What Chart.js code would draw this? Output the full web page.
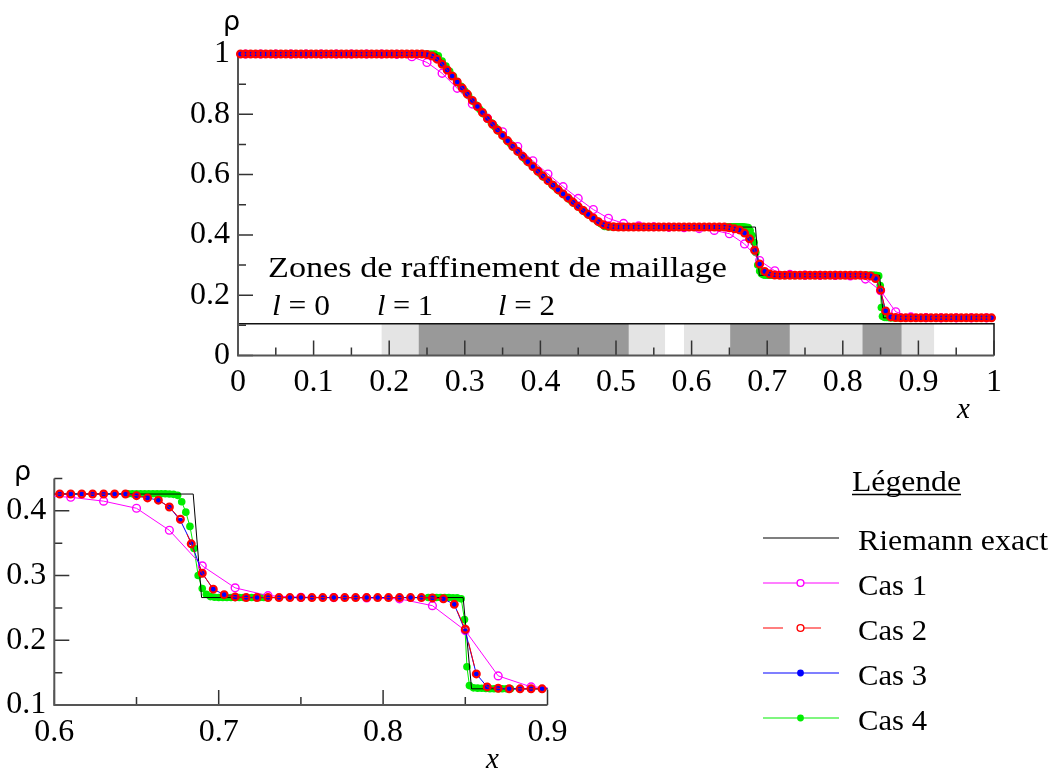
<!DOCTYPE html>
<html>
<head>
<meta charset="utf-8">
<script src="https://cdn.jsdelivr.net/npm/chart.js@4.4.0/dist/chart.umd.min.js"></script>
<style>
  body { margin: 0; background: #fff; }
  #page { position: relative; width: 1052px; height: 774px; overflow: hidden; background: #fff; }
  canvas { position: absolute; }
  #top { left: 0; top: 0; }
  #zoom { left: 0; top: 440px; }
  svg { position: absolute; left: 0; top: 0; }
  svg text { font-family: 'Liberation Serif', 'Times New Roman', serif; font-size: 29px; fill: #000; }
  svg text.rho { font-family: 'DejaVu Sans', sans-serif; font-size: 27px; }
</style>
</head>
<body>
<div id="page">
  <canvas id="top" width="1052" height="440"></canvas>
  <canvas id="zoom" width="740" height="334"></canvas>
  <svg id="labels" width="1052" height="774">
    <text class="rho" x="223" y="30">ρ</text>
    <text class="rho" x="14" y="480">ρ</text>
    <text x="268" y="277" textLength="459" lengthAdjust="spacingAndGlyphs">Zones de raffinement de maillage</text>
    <text x="272" y="315" textLength="58" lengthAdjust="spacingAndGlyphs"><tspan font-style="italic">l</tspan> = 0</text>
    <text x="377" y="315" textLength="56" lengthAdjust="spacingAndGlyphs"><tspan font-style="italic">l</tspan> = 1</text>
    <text x="498" y="315" textLength="57" lengthAdjust="spacingAndGlyphs"><tspan font-style="italic">l</tspan> = 2</text>
    <text x="957" y="418" font-style="italic">x</text>
    <text x="486" y="768" font-style="italic">x</text>
    <text x="852" y="491" textLength="109" lengthAdjust="spacingAndGlyphs">Légende</text>
    <line x1="852" y1="494.5" x2="961" y2="494.5" stroke="#000" stroke-width="1.5"/>
  </svg>
</div>
<script>
// ---- données ----

// solution exacte du problème de Riemann
const riemannX = [0, 0.263, 0.275, 0.3, 0.325, 0.35, 0.375, 0.4, 0.425, 0.45, 0.475, 0.486, 0.6845, 0.6896, 0.8487, 0.8538, 1];
const riemannY = [1, 1, 0.960, 0.877, 0.801, 0.730, 0.664, 0.603, 0.546, 0.494, 0.446, 0.426, 0.426, 0.266, 0.266, 0.125, 0.125];

// Cas 1 : maillage grossier (50 mailles)
const cas1X = [0.01, 0.03, 0.05, 0.07, 0.09, 0.11, 0.13, 0.15, 0.17, 0.19,
  0.21, 0.23, 0.25, 0.27, 0.29, 0.31, 0.33, 0.35, 0.37, 0.39,
  0.41, 0.43, 0.45, 0.47, 0.49, 0.51, 0.53, 0.55, 0.57, 0.59,
  0.61, 0.63, 0.65, 0.67, 0.69, 0.71, 0.73, 0.75, 0.77, 0.79,
  0.81, 0.83, 0.85, 0.87, 0.89, 0.91, 0.93, 0.95, 0.97, 0.99];
const cas1Y = [1, 1, 1, 1, 1, 1, 1, 1, 1, 1,
  0.999, 0.991, 0.972, 0.936, 0.886, 0.834, 0.787, 0.742, 0.693, 0.646,
  0.602, 0.560, 0.521, 0.484, 0.455, 0.438, 0.430, 0.427, 0.425, 0.424,
  0.421, 0.415, 0.404, 0.370, 0.315, 0.281, 0.269, 0.2665, 0.266, 0.2655,
  0.264, 0.2535, 0.215, 0.145, 0.128, 0.1255, 0.125, 0.125, 0.125, 0.125];

// Cas 2 et Cas 3 : maillage fin (150 mailles)
const xFine = [0.0033, 0.0100, 0.0167, 0.0233, 0.0300, 0.0367, 0.0433, 0.0500, 0.0567, 0.0633, 0.0700, 0.0767,
  0.0833, 0.0900, 0.0967, 0.1033, 0.1100, 0.1167, 0.1233, 0.1300, 0.1367, 0.1433, 0.1500, 0.1567,
  0.1633, 0.1700, 0.1767, 0.1833, 0.1900, 0.1967, 0.2033, 0.2100, 0.2167, 0.2233, 0.2300, 0.2367,
  0.2433, 0.2500, 0.2567, 0.2633, 0.2700, 0.2767, 0.2833, 0.2900, 0.2967, 0.3033, 0.3100, 0.3167,
  0.3233, 0.3300, 0.3367, 0.3433, 0.3500, 0.3567, 0.3633, 0.3700, 0.3767, 0.3833, 0.3900, 0.3967,
  0.4033, 0.4100, 0.4167, 0.4233, 0.4300, 0.4367, 0.4433, 0.4500, 0.4567, 0.4633, 0.4700, 0.4767,
  0.4833, 0.4900, 0.4967, 0.5033, 0.5100, 0.5167, 0.5233, 0.5300, 0.5367, 0.5433, 0.5500, 0.5567,
  0.5633, 0.5700, 0.5767, 0.5833, 0.5900, 0.5967, 0.6033, 0.6100, 0.6167, 0.6233, 0.6300, 0.6367,
  0.6433, 0.6500, 0.6567, 0.6633, 0.6700, 0.6767, 0.6833, 0.6900, 0.6967, 0.7033, 0.7100, 0.7167,
  0.7233, 0.7300, 0.7367, 0.7433, 0.7500, 0.7567, 0.7633, 0.7700, 0.7767, 0.7833, 0.7900, 0.7967,
  0.8033, 0.8100, 0.8167, 0.8233, 0.8300, 0.8367, 0.8433, 0.8500, 0.8567, 0.8633, 0.8700, 0.8767,
  0.8833, 0.8900, 0.8967, 0.9033, 0.9100, 0.9167, 0.9233, 0.9300, 0.9367, 0.9433, 0.9500, 0.9567,
  0.9633, 0.9700, 0.9767, 0.9833, 0.9900, 0.9967];
const cas2Y = [1, 1, 1, 1, 1, 1, 1, 1, 1, 1, 1, 1,
  1, 1, 1, 1, 1, 1, 1, 1, 1, 1, 1, 1,
  1, 1, 1, 1, 1, 1, 1, 1, 1, 1, 1, 1,
  1, 0.998, 0.993, 0.983, 0.966, 0.947, 0.927, 0.907, 0.887, 0.867, 0.846, 0.826,
  0.806, 0.786, 0.767, 0.748, 0.730, 0.712, 0.694, 0.677, 0.660, 0.643, 0.627, 0.611,
  0.595, 0.580, 0.565, 0.550, 0.536, 0.522, 0.508, 0.494, 0.481, 0.468, 0.456, 0.444,
  0.434, 0.429, 0.427, 0.426, 0.426, 0.426, 0.426, 0.426, 0.426, 0.426, 0.426, 0.426,
  0.426, 0.426, 0.426, 0.426, 0.426, 0.426, 0.426, 0.426, 0.426, 0.426, 0.426, 0.426,
  0.426, 0.4235, 0.420, 0.4165, 0.406, 0.387, 0.349, 0.3035, 0.279, 0.2705, 0.267, 0.266,
  0.266, 0.266, 0.266, 0.266, 0.266, 0.266, 0.266, 0.266, 0.266, 0.266, 0.266, 0.266,
  0.266, 0.266, 0.266, 0.266, 0.2655, 0.264, 0.2555, 0.217, 0.148, 0.128, 0.1258, 0.125,
  0.125, 0.125, 0.125, 0.125, 0.125, 0.125, 0.125, 0.125, 0.125, 0.125, 0.125, 0.125,
  0.125, 0.125, 0.125, 0.125, 0.125, 0.125];
const cas3Y = [1, 1, 1, 1, 1, 1, 1, 1, 1, 1, 1, 1,
  1, 1, 1, 1, 1, 1, 1, 1, 1, 1, 1, 1,
  1, 1, 1, 1, 1, 1, 1, 1, 1, 1, 1, 1,
  1, 0.998, 0.993, 0.983, 0.966, 0.947, 0.927, 0.907, 0.887, 0.867, 0.846, 0.826,
  0.806, 0.786, 0.767, 0.748, 0.730, 0.712, 0.694, 0.677, 0.660, 0.643, 0.627, 0.611,
  0.595, 0.580, 0.565, 0.550, 0.536, 0.522, 0.508, 0.494, 0.481, 0.468, 0.456, 0.444,
  0.434, 0.429, 0.427, 0.426, 0.426, 0.426, 0.426, 0.426, 0.426, 0.426, 0.426, 0.426,
  0.426, 0.426, 0.426, 0.426, 0.426, 0.426, 0.426, 0.426, 0.426, 0.426, 0.426, 0.426,
  0.426, 0.4235, 0.420, 0.4165, 0.406, 0.385, 0.351, 0.3035, 0.279, 0.2705, 0.267, 0.266,
  0.266, 0.266, 0.266, 0.266, 0.266, 0.266, 0.266, 0.266, 0.266, 0.266, 0.266, 0.266,
  0.266, 0.266, 0.266, 0.266, 0.2655, 0.264, 0.2555, 0.214, 0.148, 0.128, 0.1258, 0.125,
  0.125, 0.125, 0.125, 0.125, 0.125, 0.125, 0.125, 0.125, 0.125, 0.125, 0.125, 0.125,
  0.125, 0.125, 0.125, 0.125, 0.125, 0.125];

// Cas 4 : maillage adaptatif (points denses dans les zones l = 2)
const cas4X = [0.0033, 0.2367,
  0.24, 0.245, 0.25, 0.255, 0.26, 0.265, 0.27, 0.275, 0.28, 0.285, 0.29, 0.295, 0.30, 0.305,
  0.31, 0.315, 0.32, 0.325, 0.33, 0.335, 0.34, 0.345, 0.35, 0.355, 0.36, 0.365, 0.37, 0.375,
  0.38, 0.385, 0.39, 0.395, 0.40, 0.405, 0.41, 0.415, 0.42, 0.425, 0.43, 0.435, 0.44, 0.445,
  0.45, 0.455, 0.46, 0.465, 0.47, 0.475, 0.48, 0.485, 0.49, 0.495, 0.50, 0.505, 0.51, 0.515,
  0.645, 0.6475, 0.65, 0.6525, 0.655, 0.6575, 0.66, 0.6625, 0.665, 0.6675, 0.67, 0.6725, 0.675,
  0.6775, 0.68, 0.6825, 0.685, 0.6875, 0.69, 0.6925, 0.695, 0.6975, 0.70, 0.7025, 0.705, 0.7075,
  0.71, 0.7125, 0.715, 0.7175, 0.72, 0.7225, 0.725, 0.7275, 0.73,
  0.8275, 0.83, 0.8325, 0.835, 0.8375, 0.84, 0.8425, 0.845, 0.8475, 0.8495, 0.851, 0.8525,
  0.855, 0.8575, 0.86, 0.8625, 0.865, 0.8675, 0.87, 0.8725, 0.875, 0.8775,
  0.9967];
const cas4Y = [1, 1,
  1, 1, 1, 1, 1, 0.994, 0.977, 0.960, 0.943, 0.926, 0.909, 0.893, 0.877, 0.862,
  0.846, 0.831, 0.816, 0.801, 0.786, 0.772, 0.758, 0.744, 0.730, 0.716, 0.703, 0.690, 0.677, 0.664,
  0.651, 0.639, 0.627, 0.615, 0.603, 0.591, 0.580, 0.568, 0.557, 0.546, 0.536, 0.525, 0.515, 0.504,
  0.494, 0.484, 0.474, 0.465, 0.455, 0.446, 0.437, 0.428, 0.426, 0.426, 0.426, 0.426, 0.426, 0.426,
  0.4265, 0.4265, 0.4265, 0.4265, 0.4265, 0.4265, 0.4265, 0.4265, 0.4265, 0.4265, 0.426, 0.4255, 0.424,
  0.414, 0.398, 0.376, 0.342, 0.300, 0.280, 0.271, 0.2675, 0.2665, 0.266, 0.266, 0.266, 0.266,
  0.266, 0.266, 0.266, 0.266, 0.266, 0.266, 0.266, 0.266, 0.266,
  0.266, 0.266, 0.266, 0.266, 0.266, 0.266, 0.2658, 0.2655, 0.264, 0.232, 0.159, 0.130,
  0.1265, 0.126, 0.1258, 0.1255, 0.1252, 0.125, 0.125, 0.125, 0.125, 0.125,
  0.125];

// zones de raffinement de maillage (bande du bas)
const zoneStart = [0, 0.19, 0.239, 0.517, 0.565, 0.59, 0.651, 0.73, 0.826, 0.878, 0.921];
const zoneEnd   = [0.19, 0.239, 0.517, 0.565, 0.59, 0.651, 0.73, 0.826, 0.878, 0.921, 1];
const zoneLevel = [0, 1, 2, 1, 0, 1, 2, 1, 2, 1, 0];

// graduations
const topXTicks = [0, 0.1, 0.2, 0.3, 0.4, 0.5, 0.6, 0.7, 0.8, 0.9, 1];
const topXMinor = [0.05, 0.15, 0.25, 0.35, 0.45, 0.55, 0.65, 0.75, 0.85, 0.95];
const topYTicks = [0, 0.2, 0.4, 0.6, 0.8, 1];
const topYMinor = [0.1, 0.3, 0.5, 0.7, 0.9];
const zoomXTicks = [0.6, 0.7, 0.8, 0.9];
const zoomXMinor = [0.65, 0.75, 0.85];
const zoomYTicks = [0.1, 0.2, 0.3, 0.4];
const zoomYMinor = [0.15, 0.25, 0.35, 0.45];

// ---- dessin ----
const zoneFill = ['#ffffff', '#e4e4e4', '#999999'];
const serif = "'Liberation Serif', 'Times New Roman', serif";

const pts = (xs, ys) => xs.map((x, i) => ({ x: x, y: ys[i] }));

function makeDatasets(clip) {
  const list = [
    { label: 'Riemann exact', data: pts(riemannX, riemannY), borderColor: '#000000', borderWidth: 1,
      pointRadius: 0, order: 3 },
    { label: 'Cas 1', data: pts(cas1X, cas1Y), borderColor: '#ff00ff', borderWidth: 1,
      pointRadius: 3.9, pointBorderWidth: 1.4, pointBorderColor: '#ff00ff',
      pointBackgroundColor: 'rgba(255,255,255,0)', order: 2 },
    { label: 'Cas 2', data: pts(xFine, cas2Y), borderColor: '#ff0000', borderWidth: 1,
      borderDash: [20, 14, 24, 20], pointRadius: 3.4, pointBorderWidth: 2.2, pointBorderColor: '#ff0000',
      pointBackgroundColor: 'rgba(255,255,255,0)', order: 0 },
    { label: 'Cas 3', data: pts(xFine, cas3Y), borderColor: '#0000ff', borderWidth: 1,
      pointRadius: 2.8, pointBorderWidth: 0, pointBackgroundColor: '#0000ff', order: 1 },
    { label: 'Cas 4', data: pts(cas4X, cas4Y), borderColor: '#00ee00', borderWidth: 1,
      pointRadius: 3.8, pointBorderWidth: 0, pointBackgroundColor: '#00ee00', order: 4 }
  ];
  list.forEach(d => { d.tension = 0; if (clip === false) d.clip = false; });
  return list;
}

// axes, graduations intérieures et bande des zones
const axisDecor = {
  id: 'axisDecor',
  beforeDatasetsDraw(chart, args, o) {
    const ctx = chart.ctx;
    const x = chart.scales.x, y = chart.scales.y;
    const px = v => x.getPixelForValue(v), py = v => y.getPixelForValue(v);
    ctx.save();
    if (o.zones) {
      const yT = py(o.boxTop), yB = py(0);
      zoneStart.forEach((s, i) => {
        ctx.fillStyle = zoneFill[zoneLevel[i]];
        ctx.fillRect(px(s), yT, px(zoneEnd[i]) - px(s), yB - yT);
      });
      ctx.strokeStyle = '#111';
      ctx.lineWidth = 1.5;
      ctx.beginPath();
      ctx.moveTo(px(x.min), yT);
      ctx.lineTo(px(x.max), yT);
      ctx.lineTo(px(x.max), yB);
      ctx.stroke();
    }
    const x0 = px(x.min), y0 = py(y.min);
    ctx.strokeStyle = '#333';
    ctx.lineWidth = 1.5;
    ctx.beginPath();
    o.xMajor.forEach(v => { ctx.moveTo(px(v), y0); ctx.lineTo(px(v), y0 - 15); });
    o.xMinor.forEach(v => { ctx.moveTo(px(v), y0); ctx.lineTo(px(v), y0 - 8); });
    o.yMajor.forEach(v => { ctx.moveTo(x0, py(v)); ctx.lineTo(x0 + 15, py(v)); });
    o.yMinor.forEach(v => { ctx.moveTo(x0, py(v)); ctx.lineTo(x0 + 8, py(v)); });
    if (o.rightStub) {
      ctx.moveTo(px(x.max), y0);
      ctx.lineTo(px(x.max), py(o.rightStub));
    }
    ctx.stroke();
    ctx.strokeStyle = '#555';
    ctx.lineWidth = 2;
    ctx.beginPath();
    ctx.moveTo(x0, py(y.max));
    ctx.lineTo(x0, y0);
    ctx.lineTo(px(x.max), y0);
    ctx.stroke();
    ctx.restore();
  }
};

function makeOptions(p) {
  const tickFont = { family: serif, size: 32 };
  return {
    responsive: false,
    animation: false,
    events: [],
    layout: { padding: p.padding },
    plugins: {
      legend: { display: false },
      tooltip: { enabled: false },
      axisDecor: p.decor
    },
    scales: {
      x: {
        type: 'linear', min: p.xMin, max: p.xMax,
        grid: { display: false, drawTicks: false }, border: { display: false },
        ticks: { font: tickFont, color: '#000', padding: 8, autoSkip: false, maxRotation: 0,
          callback: v => String(v) },
        afterBuildTicks: s => { s.ticks = p.xTicks.map(v => ({ value: v })); },
        afterFit: s => { s.height = p.xHeight; }
      },
      y: {
        type: 'linear', min: p.yMin, max: p.yMax,
        grid: { display: false, drawTicks: false }, border: { display: false },
        ticks: { font: tickFont, color: '#000', padding: 8, autoSkip: false,
          callback: v => String(v) },
        afterBuildTicks: s => { s.ticks = p.yTicks.map(v => ({ value: v })); },
        afterFit: s => { s.width = p.yWidth; }
      }
    }
  };
}

new Chart(document.getElementById('top'), {
  type: 'line',
  data: { datasets: makeDatasets(false) },
  options: makeOptions({
    padding: { left: 0, top: 54, right: 58, bottom: 0 },
    xMin: 0, xMax: 1, yMin: 0, yMax: 1,
    xTicks: topXTicks, yTicks: topYTicks, xHeight: 84.5, yWidth: 238,
    decor: { zones: true, boxTop: 0.105, xMajor: topXTicks, xMinor: topXMinor,
      yMajor: topYTicks, yMinor: topYMinor }
  }),
  plugins: [axisDecor]
});

new Chart(document.getElementById('zoom'), {
  type: 'line',
  data: { datasets: makeDatasets(true) },
  options: makeOptions({
    padding: { left: 0, top: 38.5, right: 192.5, bottom: 0 },
    xMin: 0.6, xMax: 0.9, yMin: 0.1, yMax: 0.45,
    xTicks: zoomXTicks, yTicks: zoomYTicks, xHeight: 69, yWidth: 54.3,
    decor: { zones: false, xMajor: zoomXTicks, xMinor: zoomXMinor,
      yMajor: zoomYTicks, yMinor: zoomYMinor, rightStub: 0.124 }
  }),
  plugins: [axisDecor]
});

// légende construite à partir des séries
const NS = 'http://www.w3.org/2000/svg';
const svg = document.getElementById('labels');
function add(tag, attrs, text) {
  const e = document.createElementNS(NS, tag);
  for (const k in attrs) e.setAttribute(k, attrs[k]);
  if (text) e.textContent = text;
  svg.appendChild(e);
  return e;
}
makeDatasets().forEach((d, i) => {
  const rowY = 538 + 45 * i;
  const line = add('line', { x1: 763, y1: rowY, x2: 839, y2: rowY, stroke: d.borderColor, 'stroke-width': 1.2 });
  if (d.borderDash) line.setAttribute('stroke-dasharray', d.borderDash.join(' '));
  if (d.pointRadius > 0) {
    const filled = d.pointBorderWidth === 0;
    add('circle', { cx: 800.5, cy: rowY, r: 3.4,
      fill: filled ? d.pointBackgroundColor : '#fff',
      stroke: filled ? 'none' : d.pointBorderColor, 'stroke-width': 1.4 });
  }
  add('text', { x: 858, y: rowY + 11.5, textLength: i === 0 ? 190 : 69, lengthAdjust: 'spacingAndGlyphs' }, d.label);
});
</script>
</body>
</html>
